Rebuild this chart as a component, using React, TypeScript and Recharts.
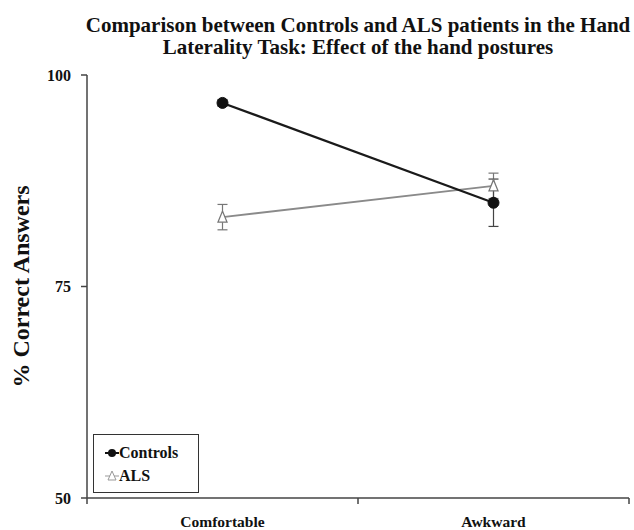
import React from 'react';
import { LineChart, Line, XAxis, YAxis, ErrorBar, Legend } from 'recharts';

const categories = ['Comfortable', 'Awkward'];
const controls = [96.7, 84.9];
const controlsErr = [0.4, 2.8];
const als = [83.2, 86.9];
const alsErr = [1.5, 1.5];
const yTicks = [50, 75, 100];

const FONT = '"Liberation Serif", "Times New Roman", serif';

// x runs 0..2, each category sits in the middle of its band
const data = categories.map((name, i) => ({
  x: i + 0.5,
  name,
  controls: controls[i],
  controlsErr: controlsErr[i],
  als: als[i],
  alsErr: alsErr[i],
}));

const xTicks = [0, 0.5, 1, 1.5, 2];

const XTick = ({ x, y, payload }: any) => {
  const v = payload.value;
  if (Number.isInteger(v)) {
    return <line x1={x} x2={x} y1={y} y2={y + 6} stroke="#444" strokeWidth={1.5} />;
  }
  const label = categories[Math.floor(v)];
  return (
    <text x={x} y={y + 29} textAnchor="middle" fontFamily={FONT} fontWeight="bold" fontSize={15.5} fill="#111">
      {label}
    </text>
  );
};

const Triangle = ({ cx, cy }: any) => {
  if (cx == null || cy == null) return null;
  return (
    <polygon
      points={`${cx},${cy - 6} ${cx + 4.5},${cy + 5} ${cx - 4.5},${cy + 5}`}
      fill="#fff"
      stroke="#777"
      strokeWidth={1.3}
    />
  );
};

const LegendBox = () => (
  <div
    style={{
      width: 106,
      height: 59,
      boxSizing: 'border-box',
      border: '1.5px solid #333',
      background: '#fff',
      fontFamily: FONT,
      fontWeight: 'bold',
      fontSize: 16,
      color: '#111',
      padding: '6px 0 0 11px',
      lineHeight: '23px',
    }}
  >
    <div style={{ display: 'flex', alignItems: 'center' }}>
      <svg width={14} height={12}>
        <line x1={0} x2={14} y1={6} y2={6} stroke="#111" strokeWidth={2} />
        <circle cx={7} cy={6} r={4} fill="#111" />
      </svg>
      <span>Controls</span>
    </div>
    <div style={{ display: 'flex', alignItems: 'center' }}>
      <svg width={14} height={12}>
        <line x1={0} x2={14} y1={6} y2={6} stroke="#aaa" strokeWidth={1.2} />
        <polygon points="7,1 11,10 3,10" fill="#fff" stroke="#999" strokeWidth={1} />
      </svg>
      <span>ALS</span>
    </div>
  </div>
);

export default function App() {
  return (
    <div style={{ position: 'absolute', left: 0, top: 0, width: 634, height: 530, background: '#fff' }}>
      <div
        style={{
          position: 'absolute',
          left: 0,
          width: 716,
          top: 14,
          textAlign: 'center',
          fontFamily: FONT,
          fontWeight: 'bold',
          fontSize: 21,
          lineHeight: '22px',
          color: '#111',
          whiteSpace: 'nowrap',
        }}
      >
        Comparison between Controls and ALS patients in the Hand
        <br />
        Laterality Task: Effect of the hand postures
      </div>
      <LineChart width={634} height={530} data={data} margin={{ top: 75, right: 5, bottom: 0, left: 0 }}>
        <XAxis
          dataKey="x"
          type="number"
          domain={[0, 2]}
          ticks={xTicks}
          interval={0}
          height={32}
          tickSize={0}
          tickMargin={0}
          tickLine={false}
          tick={<XTick />}
          stroke="#444"
          strokeWidth={1.5}
        />
        <YAxis
          type="number"
          domain={[50, 100]}
          ticks={yTicks}
          width={87}
          tickSize={6}
          tickMargin={10}
          stroke="#444"
          strokeWidth={1.5}
          tickLine={{ stroke: '#444', strokeWidth: 1.5 }}
          tick={{ fontFamily: FONT, fontWeight: 'bold', fontSize: 16, fill: '#111' }}
          label={{
            content: ({ viewBox }: any) => {
              const cx = viewBox.x + 21;
              const cy = viewBox.y + viewBox.height / 2;
              return (
                <text
                  x={cx}
                  y={cy}
                  transform={`rotate(-90 ${cx} ${cy})`}
                  textAnchor="middle"
                  dominantBaseline="central"
                  fontFamily={FONT}
                  fontWeight="bold"
                  fontSize={24}
                  fill="#111"
                >
                  % Correct Answers
                </text>
              );
            },
          }}
        />
        <Legend
          layout="vertical"
          align="center"
          verticalAlign="middle"
          content={() => <LegendBox />}
          wrapperStyle={{ left: 93, top: 434, width: 106, height: 59 }}
        />
        <Line
          dataKey="als"
          name="ALS"
          stroke="#8a8a8a"
          strokeWidth={1.8}
          dot={<Triangle />}
          isAnimationActive={false}
        >
          <ErrorBar dataKey="alsErr" direction="y" width={5} stroke="#777" strokeWidth={1.2} />
        </Line>
        <Line
          dataKey="controls"
          name="Controls"
          stroke="#1a1a1a"
          strokeWidth={2.2}
          dot={{ r: 5.5, fill: '#111', stroke: '#111', strokeWidth: 1 }}
          isAnimationActive={false}
        >
          <ErrorBar dataKey="controlsErr" direction="y" width={5} stroke="#444" strokeWidth={1.2} />
        </Line>
      </LineChart>
    </div>
  );
}
